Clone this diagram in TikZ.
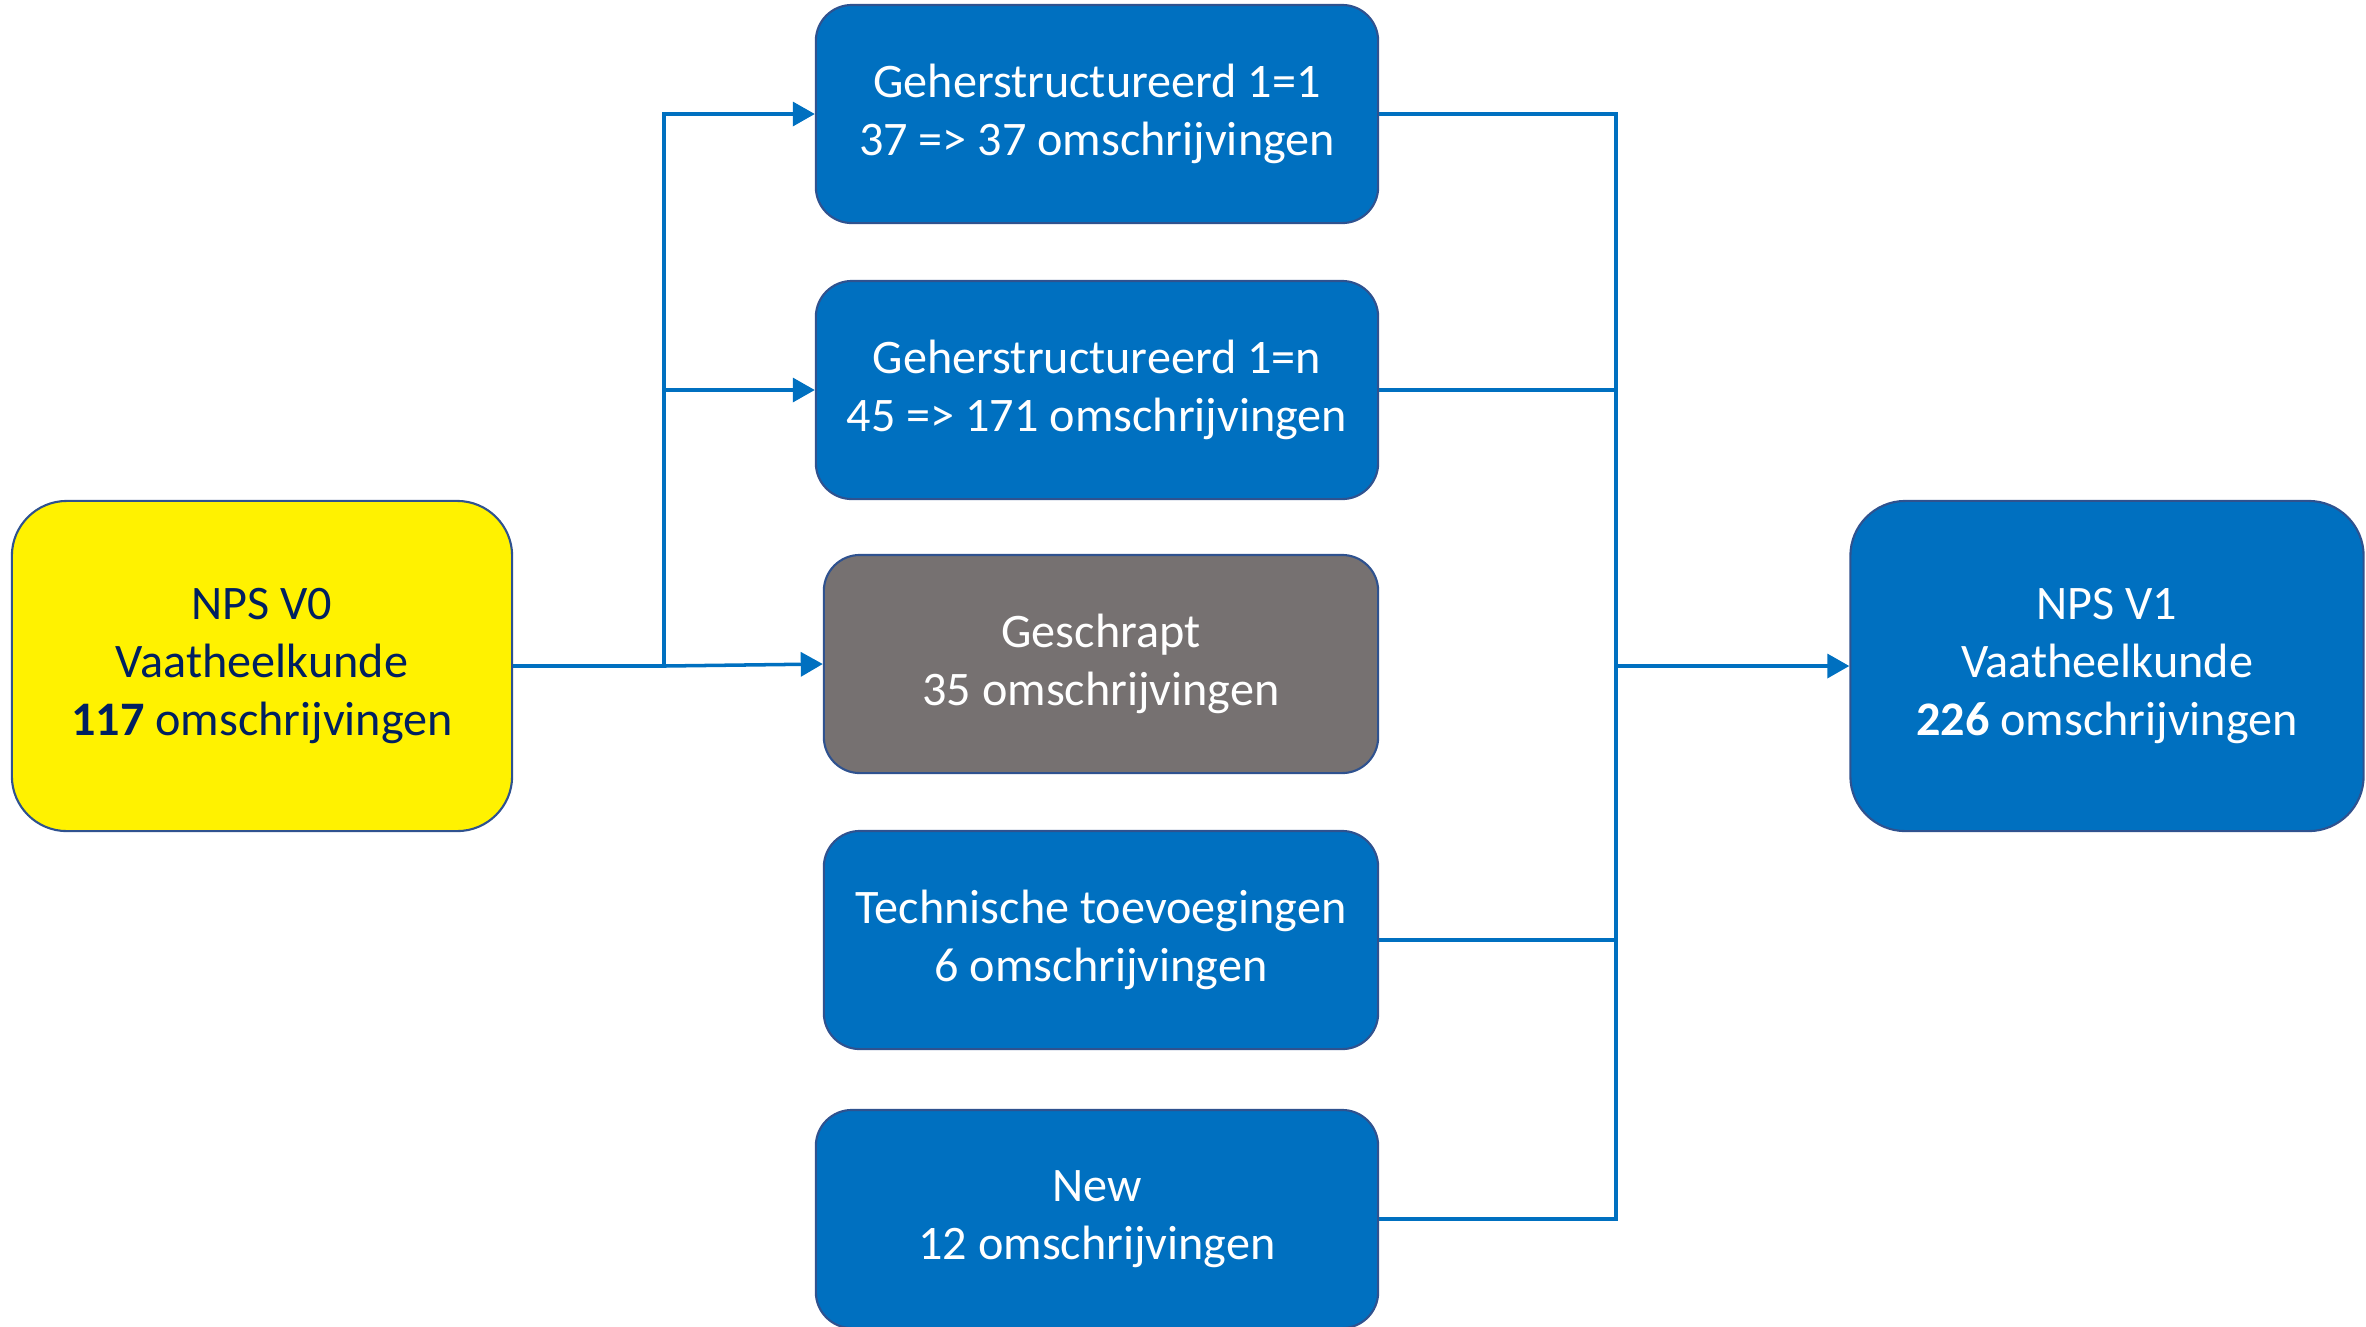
\documentclass[tikz,border=0pt]{standalone}
\usepackage{fontspec}
\setmainfont{Carlito}
\usetikzlibrary{arrows.meta}
\definecolor{nblue}{HTML}{0070C0}
\definecolor{boxline}{HTML}{2F528F}
\definecolor{navy}{HTML}{002060}
\definecolor{grijs}{HTML}{767171}
\tikzset{
  box/.style={draw=boxline,line width=0.6pt,fill=nblue,text=white,align=center,
    rounded corners=0.36cm,minimum width=5.62cm,minimum height=2.18cm,
    font=\fontsize{13.7}{16.4}\selectfont},
  bigbox/.style={box,rounded corners=0.55cm,minimum width=5.0cm,minimum height=3.3cm},
  flow/.style={draw=nblue,line width=1pt}
}
\begin{document}
\begin{tikzpicture}[x=0.01cm,y=-0.01cm,>={Triangle[length=0.22cm,width=0.24cm]}]
      \useasboundingbox (0,0) rectangle (2366,1326);
      \node[bigbox,fill=yellow,text=navy] (v0) at (262,666)
        {NPS V0\\Vaatheelkunde\\\textbf{117} omschrijvingen};
      \node[box] (gh1) at (1097,114) {Geherstructureerd 1=1\\37 => 37 omschrijvingen};
      \node[box] (gh2) at (1097,390) {Geherstructureerd 1=n\\45 => 171 omschrijvingen};
      \node[box,fill=grijs,minimum width=5.54cm] (gesch) at (1101,664)
        {Geschrapt\\35 omschrijvingen};
      \node[box,minimum width=5.54cm] (tech) at (1101,940)
        {Technische toevoegingen\\6 omschrijvingen};
      \node[box] (new) at (1097,1219) {New\\12 omschrijvingen};
      \node[bigbox,minimum width=5.13cm] (v1) at (2107,666)
        {NPS V1\\Vaatheelkunde\\\textbf{226} omschrijvingen};
      \coordinate (split) at (664,666);
      \coordinate (merge) at (1616,666);
      \draw[flow] (v0.east) -- (split);
      \draw[flow,->] (split) |- (gh1.west);
      \draw[flow,->] (split) |- (gh2.west);
      \draw[flow,->] (split) -- (gesch.west);
      \draw[flow] (gh1.east) -| (merge);
      \draw[flow] (gh2.east) -| (merge);
      \draw[flow] (tech.east) -| (merge);
      \draw[flow] (new.east) -| (merge);
      \draw[flow,->] (merge) -- (v1.west);
    \end{tikzpicture}
\end{document}
